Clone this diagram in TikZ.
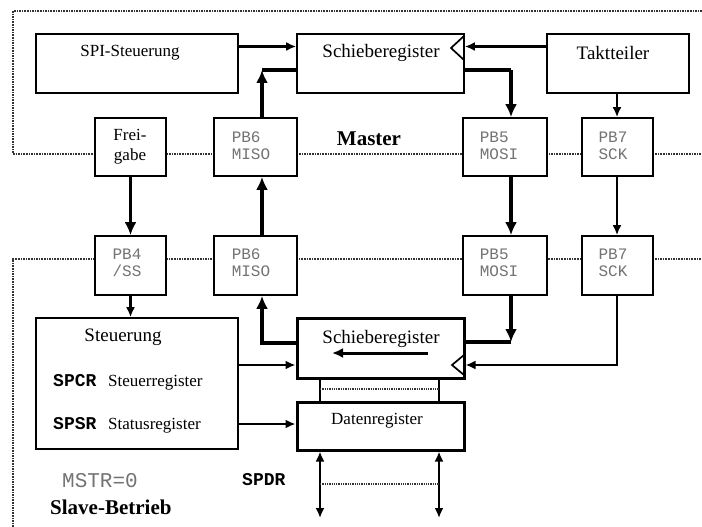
\documentclass[tikz,border=0pt]{standalone}
\usepackage{fontspec}
\setmainfont{Liberation Serif}
\setmonofont{Liberation Mono}
\usetikzlibrary{arrows.meta}
\begin{document}
\begin{tikzpicture}[x=1pt,y=-1pt,
  box/.style={draw, line width=1.7pt, fill=white, inner sep=0pt},
  tbox/.style={draw, line width=3pt, fill=white, inner sep=0pt},
  lbl/.style={font=\fontsize{17}{20}\selectfont, inner sep=0pt, align=center},
  biglbl/.style={font=\fontsize{19}{20}\selectfont, inner sep=0pt, align=center},
  pintext/.style={font=\fontsize{16}{17}\selectfont\ttfamily, text=black!55, align=left, inner sep=0pt},
  regname/.style={font=\fontsize{18}{18}\selectfont\ttfamily\bfseries, inner sep=0pt, anchor=base west},
  regtext/.style={font=\fontsize{17}{17}\selectfont, inner sep=0pt, anchor=base west},
  frameline/.style={densely dotted, line width=1.6pt, black!80},
  con/.style={line width=2.2pt, -{Latex[length=10pt,width=9pt]}},
  tcon/.style={line width=3.6pt, -{Latex[length=13pt,width=12pt]}},
  plain/.style={line width=2.2pt},
  tplain/.style={line width=3.6pt},
  clk/.style={line width=1.7pt}]
\useasboundingbox (0,0) rectangle (702,527);

% frames
\draw[frameline] (702,11) -- (13,11) -- (13,154) -- (702,154);
\draw[frameline] (13,527) -- (13,259) -- (702,259);

% master boxes
\node[box, minimum width=202pt, minimum height=59pt] (spi) at (137,63.5) {};
\node[box, minimum width=167pt, minimum height=59pt] (sm) at (380.5,63.5) {};
\node[box, minimum width=142pt, minimum height=59pt] (takt) at (618,63.5) {};
\node[box, minimum width=71pt, minimum height=58pt] (frei) at (130.5,147) {};
\node[box, minimum width=83pt, minimum height=58pt] (pb6m) at (255.5,147) {};
\node[box, minimum width=84pt, minimum height=58pt] (pb5m) at (505,147) {};
\node[box, minimum width=71pt, minimum height=58pt] (pb7m) at (617.5,147) {};

% slave boxes
\node[box, minimum width=71pt, minimum height=59pt] (pb4s) at (130.5,265.5) {};
\node[box, minimum width=83pt, minimum height=59pt] (pb6s) at (255.5,265.5) {};
\node[box, minimum width=84pt, minimum height=59pt] (pb5s) at (505,265.5) {};
\node[box, minimum width=71pt, minimum height=59pt] (pb7s) at (617.5,265.5) {};
\node[box, minimum width=202pt, minimum height=131pt] (ste) at (137,383.5) {};
\node[tbox, minimum width=167pt, minimum height=60pt] (ss) at (380.5,348) {};
\node[tbox, minimum width=167pt, minimum height=48pt] (dr) at (380.5,426) {};

% texts
\node[lbl] (tspi) at (130,53) {SPI-Steuerung};
\node[biglbl] (tsm) at (381,53) {Schieberegister};
\node[biglbl] (ttakt) at (613,53) {Taktteiler};
\node[lbl, font=\fontsize{21}{21}\selectfont\bfseries] (tmaster) at (369,139) {Master};
\node[lbl] (tfrei) at (130,147) {Frei-\\gabe};
\node[pintext] (tpb6m) at (251,146) {PB6\\MISO};
\node[pintext] (tpb5m) at (499,146) {PB5\\MOSI};
\node[pintext] (tpb7m) at (613,146) {PB7\\SCK};
\node[pintext] (tpb4s) at (127,263) {PB4\\/SS};
\node[pintext] (tpb6s) at (251,263) {PB6\\MISO};
\node[pintext] (tpb5s) at (499,263) {PB5\\MOSI};
\node[pintext] (tpb7s) at (613,263) {PB7\\SCK};
\node[lbl, font=\fontsize{19}{19}\selectfont] (tste) at (123,337) {Steuerung};
\node[regname] (tspcr) at (53,386) {SPCR};
\node[regtext] (tsteu) at (108,386) {Steuerregister};
\node[regname] (tspsr) at (53,429) {SPSR};
\node[regtext] (tstat) at (108,429) {Statusregister};
\node[inner sep=0pt, anchor=base west, font=\fontsize{21}{21}\selectfont\ttfamily, text=black!55] (tmstr) at (62,487) {MSTR=0};
\node[inner sep=0pt, anchor=base west, font=\fontsize{21}{21}\selectfont\bfseries] (tslave) at (50,514) {Slave-Betrieb};
\node[regname] (tspdr) at (242,485) {SPDR};
\node[biglbl] (tss) at (381,339) {Schieberegister};
\node[lbl] (tdr) at (377,421) {Datenregister};

% clock triangles
\draw[clk] (464,36) -- (451,48) -- (464,60);
\draw[clk] (464,355) -- (452,365) -- (464,375);

% shift direction arrow
\coordinate (sa1) at (428,353);
\coordinate (sa2) at (332,353);
\draw[tcon, line width=3pt, -{Latex[length=11pt,width=10pt]}] (sa1) -- (sa2);

% master connectors
\draw[con] (spi.east |- 0,46.5) -- (sm.west |- 0,46.5);
\draw[con] (takt.west |- 0,46.5) -- (sm.east |- 0,46.5);
\coordinate (mc) at (262,70);
\draw[tcon] (pb6m.north -| mc) -- (mc);
\draw[tplain] (mc) -- (sm.west |- mc);
\coordinate (mo) at (511,70);
\draw[tplain] (sm.east |- mo) -- (mo);
\draw[tcon] (mo) -- (pb5m.north -| mo);
\draw[con] (takt.south -| 617,0) -- (pb7m.north -| 617,0);

% master <-> slave
\draw[tcon] (frei.south) -- (pb4s.north);
\draw[tcon] (pb6s.north -| mc) -- (pb6m.south -| mc);
\draw[tcon] (pb5m.south -| mo) -- (pb5s.north -| mo);
\draw[con] (pb7m.south -| 617,0) -- (pb7s.north -| 617,0);

% slave connectors
\draw[con] (pb4s.south) -- (ste.north -| pb4s.south);
\coordinate (sc) at (262,343);
\draw[tcon] (ss.west |- sc) -| (pb6s.south -| sc);
\coordinate (so) at (511,342);
\draw[tcon] (pb5s.south -| so) -- (so);
\draw[tplain] (so) -- (ss.east |- so);
\coordinate (sk) at (617,365);
\draw[con] (pb7s.south -| sk) |- (ss.east |- sk);
\draw[con] (ste.east |- 0,365) -- (ss.west |- 0,365);
\draw[con] (ste.east |- 0,424) -- (dr.west |- 0,424);

% between shift register and data register
\draw[clk] (ss.south -| 320,0) -- (dr.north -| 320,0);
\draw[clk] (ss.south -| 439,0) -- (dr.north -| 439,0);
\draw[frameline, line width=1.3pt] (320,389) -- (439,389);

% data bus
\coordinate (b1) at (320,518);
\coordinate (b2) at (439,518);
\draw[con, {Latex[length=10pt,width=9pt]}-{Latex[length=10pt,width=9pt]}] (dr.south -| b1) -- (b1);
\draw[con, {Latex[length=10pt,width=9pt]}-{Latex[length=10pt,width=9pt]}] (dr.south -| b2) -- (b2);
\draw[frameline, line width=1.3pt] (320,484) -- (439,484);
\end{tikzpicture}
\end{document}
